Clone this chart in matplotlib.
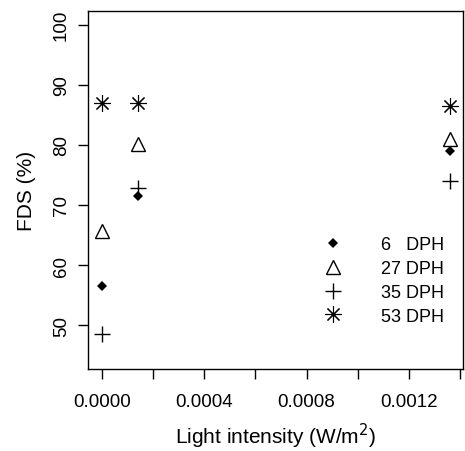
"""
FDS vs light intensity, four larval ages
"""
import matplotlib.pyplot as plt
import numpy as np

plt.rcParams['font.family'] = ['Liberation Sans', 'DejaVu Sans']

# light intensity columns (W/m2)
light = np.array([0.0, 0.00014, 0.00136])

# FDS (%) per age group
fds_6 = np.array([56.5, 71.5, 79.0])
fds_27 = np.array([65.7, 80.2, 81.0])
fds_35 = np.array([48.6, 72.8, 74.0])
fds_53 = np.array([87.0, 87.0, 86.5])

labels = ['6   DPH', '27 DPH', '35 DPH', '53 DPH']

fig = plt.figure(figsize=(4.65, 4.52), dpi=100)
ax = fig.add_axes([0.189, 0.181, 0.807, 0.793])

ax.plot(light, fds_6, linestyle='none', marker='D', markersize=5.5,
        color='black', markeredgewidth=0, label=labels[0])
ax.plot(light, fds_27, linestyle='none', marker='^', markersize=10,
        markerfacecolor='white', markeredgecolor='black', markeredgewidth=1,
        label=labels[1])
ax.plot(light, fds_35, linestyle='none', marker='+', markersize=12,
        color='black', markeredgewidth=1, label=labels[2])
ax.plot(light, fds_53, linestyle='none', marker=(8, 2, 0), markersize=12,
        color='black', markeredgewidth=0.8, label=labels[3])

ax.set_xlim(-0.000056, 0.001413)
ax.set_ylim(42.67, 102.33)

xt = np.arange(0, 0.00141, 0.0002)
ax.set_xticks(xt)
ax.set_xticklabels(['0.0000', '', '0.0004', '', '0.0008', '', '0.0012', ''])
ax.set_yticks([50, 60, 70, 80, 90, 100])
ax.set_yticklabels(['50', '60', '70', '80', '90', '100'], rotation=90,
                   va='center')

ax.tick_params(axis='both', labelsize=13.5, length=7, width=1,
               direction='out')
ax.tick_params(axis='x', pad=10)
ax.tick_params(axis='y', pad=6)
for s in ax.spines.values():
    s.set_linewidth(1)

ax.set_xlabel('Light intensity (W/m$^{2}$)', fontsize=15, labelpad=8)
ax.set_ylabel('FDS (%)', fontsize=15, labelpad=12)

leg = ax.legend(loc='upper left', bbox_to_anchor=(0.623, 0.371), frameon=False,
                fontsize=13, handletextpad=2.1, labelspacing=0.38,
                borderaxespad=0, borderpad=0, handlelength=1.2)

fig.savefig('out.png', dpi=100)
plt.close(fig)
